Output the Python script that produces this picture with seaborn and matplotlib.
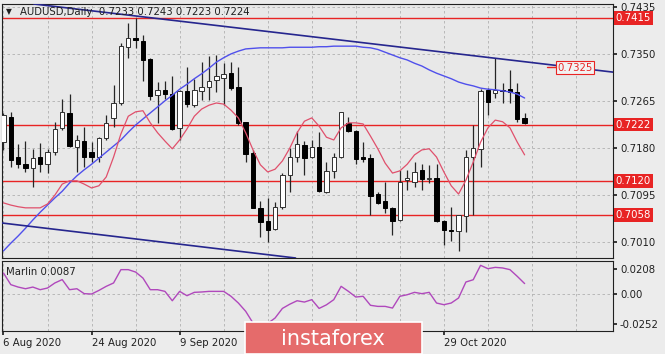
import matplotlib
matplotlib.use('Agg')
import matplotlib.pyplot as plt
from matplotlib.patches import Rectangle
import seaborn as sns
import numpy as np

# AUDUSD daily candles (6 Aug 2020 .. 13 Nov 2020)
opens = [0.7190, 0.7236, 0.7163, 0.7150, 0.7143, 0.7163, 0.7150, 0.7172, 0.7215, 0.7243,
         0.7181, 0.7192, 0.7172, 0.7163, 0.7197, 0.7234, 0.7261, 0.7362, 0.7379, 0.7373,
         0.7341, 0.7276, 0.7285, 0.7277, 0.7216, 0.7283, 0.7257, 0.7283, 0.7290, 0.7303,
         0.7306, 0.7315, 0.7290, 0.7226, 0.7170, 0.7071, 0.7047, 0.7033, 0.7073, 0.7130,
         0.7163, 0.7185, 0.7163, 0.7181, 0.7100, 0.7138, 0.7163, 0.7224, 0.7210, 0.7163,
         0.7161, 0.7096, 0.7083, 0.7071, 0.7049, 0.7121, 0.7118, 0.7140, 0.7123, 0.7125,
         0.7047, 0.7031, 0.7029, 0.7056, 0.7163, 0.7178, 0.7285, 0.7279, 0.7285, 0.7286,
         0.7281, 0.7233]
highs = [0.7242, 0.7245, 0.7187, 0.7192, 0.7177, 0.7188, 0.7177, 0.7226, 0.7268, 0.7277,
         0.7203, 0.7217, 0.7190, 0.7199, 0.7239, 0.7294, 0.7370, 0.7406, 0.7415, 0.7384,
         0.7343, 0.7299, 0.7301, 0.7310, 0.7285, 0.7326, 0.7304, 0.7335, 0.7346, 0.7348,
         0.7333, 0.7335, 0.7326, 0.7226, 0.7176, 0.7083, 0.7089, 0.7082, 0.7134, 0.7179,
         0.7210, 0.7192, 0.7194, 0.7208, 0.7154, 0.7170, 0.7245, 0.7236, 0.7212, 0.7190,
         0.7168, 0.7100, 0.7118, 0.7073, 0.7140, 0.7140, 0.7154, 0.7150, 0.7148, 0.7150,
         0.7049, 0.7073, 0.7058, 0.7176, 0.7221, 0.7287, 0.7288, 0.7343, 0.7297, 0.7321,
         0.7297, 0.7243]
lows = [0.7176, 0.7145, 0.7143, 0.7136, 0.7109, 0.7136, 0.7134, 0.7167, 0.7212, 0.7181,
        0.7136, 0.7145, 0.7154, 0.7154, 0.7194, 0.7217, 0.7257, 0.7342, 0.7361, 0.7301,
        0.7266, 0.7224, 0.7268, 0.7212, 0.7194, 0.7254, 0.7254, 0.7266, 0.7266, 0.7281,
        0.7257, 0.7285, 0.7221, 0.7154, 0.7071, 0.7018, 0.7009, 0.7031, 0.7069, 0.7100,
        0.7154, 0.7130, 0.7161, 0.7100, 0.7098, 0.7125, 0.7161, 0.7208, 0.7150, 0.7154,
        0.7058, 0.7078, 0.7062, 0.7022, 0.7047, 0.7103, 0.7109, 0.7103, 0.7116, 0.7045,
        0.7004, 0.7011, 0.6993, 0.7027, 0.7058, 0.7145, 0.7239, 0.7270, 0.7261, 0.7261,
        0.7226, 0.7223]
closes = [0.7239, 0.7158, 0.7150, 0.7143, 0.7161, 0.7150, 0.7172, 0.7213, 0.7245, 0.7183,
          0.7194, 0.7163, 0.7163, 0.7197, 0.7224, 0.7261, 0.7364, 0.7379, 0.7375, 0.7339,
          0.7274, 0.7285, 0.7277, 0.7214, 0.7283, 0.7259, 0.7285, 0.7290, 0.7301, 0.7310,
          0.7313, 0.7288, 0.7225, 0.7168, 0.7071, 0.7045, 0.7031, 0.7073, 0.7130, 0.7163,
          0.7187, 0.7161, 0.7181, 0.7101, 0.7138, 0.7163, 0.7245, 0.7210, 0.7159, 0.7159,
          0.7092, 0.7080, 0.7071, 0.7047, 0.7118, 0.7125, 0.7136, 0.7123, 0.7125, 0.7047,
          0.7031, 0.7029, 0.7058, 0.7163, 0.7179, 0.7283, 0.7263, 0.7285, 0.7283, 0.7281,
          0.7232, 0.7224]

# moving averages drawn on the chart
ma_slow = [0.6993, 0.7007, 0.7020, 0.7034, 0.7049, 0.7063, 0.7076, 0.7089, 0.7101, 0.7116,
           0.7129, 0.7140, 0.7150, 0.7161, 0.7172, 0.7183, 0.7194, 0.7208, 0.7221, 0.7232,
           0.7243, 0.7254, 0.7265, 0.7275, 0.7286, 0.7295, 0.7305, 0.7314, 0.7324, 0.7335,
           0.7343, 0.7350, 0.7355, 0.7359, 0.7360, 0.7361, 0.7361, 0.7361, 0.7361, 0.7362,
           0.7362, 0.7362, 0.7362, 0.7363, 0.7363, 0.7364, 0.7364, 0.7364, 0.7364, 0.7362,
           0.7361, 0.7358, 0.7353, 0.7348, 0.7343, 0.7339, 0.7333, 0.7328, 0.7321, 0.7315,
           0.7310, 0.7305, 0.7299, 0.7295, 0.7292, 0.7288, 0.7286, 0.7285, 0.7283, 0.7281,
           0.7277, 0.7270]
ma_fast = [0.7080, 0.7076, 0.7073, 0.7071, 0.7071, 0.7071, 0.7078, 0.7094, 0.7114, 0.7120,
           0.7120, 0.7114, 0.7107, 0.7111, 0.7127, 0.7163, 0.7205, 0.7237, 0.7245, 0.7247,
           0.7225, 0.7207, 0.7192, 0.7178, 0.7194, 0.7214, 0.7237, 0.7250, 0.7257, 0.7261,
           0.7259, 0.7248, 0.7234, 0.7207, 0.7176, 0.7149, 0.7136, 0.7141, 0.7156, 0.7179,
           0.7207, 0.7228, 0.7234, 0.7219, 0.7199, 0.7194, 0.7216, 0.7225, 0.7225, 0.7223,
           0.7201, 0.7178, 0.7152, 0.7134, 0.7138, 0.7150, 0.7167, 0.7176, 0.7178, 0.7163,
           0.7136, 0.7111, 0.7096, 0.7121, 0.7154, 0.7190, 0.7216, 0.7230, 0.7227, 0.7216,
           0.7190, 0.7167]

# Marlin oscillator (lower panel)
marlin = [0.0175, 0.0078, 0.0058, 0.0044, 0.0058, 0.0036, 0.0050, 0.0092, 0.0120, 0.0036,
          0.0044, 0.0003, 0.0000, 0.0030, 0.0064, 0.0092, 0.0203, 0.0203, 0.0183, 0.0133,
          0.0036, 0.0036, 0.0022, -0.0056, 0.0022, -0.0014, 0.0014, 0.0017, 0.0022, 0.0022,
          0.0022, -0.0019, -0.0075, -0.0144, -0.0242, -0.0300, -0.0245, -0.0200, -0.0120, -0.0085,
          -0.0056, -0.0067, -0.0047, -0.0120, -0.0090, -0.0047, 0.0064, 0.0022, -0.0025, -0.0019,
          -0.0094, -0.0103, -0.0103, -0.0117, -0.0019, -0.0006, 0.0014, 0.0003, 0.0014, -0.0075,
          -0.0089, -0.0075, -0.0033, 0.0100, 0.0119, 0.0239, 0.0211, 0.0222, 0.0217, 0.0203,
          0.0147, 0.0087]

levels = [0.7415, 0.7222, 0.7120, 0.7058]
price_ticks = [0.7435, 0.7350, 0.7265, 0.7180, 0.7095, 0.7010]
marlin_ticks = [0.0208, 0.0, -0.0252]
marlin_labels = ['0.0208', '0.00', '-0.0252']
# the labels at bars 36 and 48 sit under the watermark, so only the visible ones are drawn
date_pos = [0, 12, 24, 60]
date_labels = ['6 Aug 2020', '24 Aug 2020', '9 Sep 2020', '29 Oct 2020']
trend_x = [1.84, 77.9]
trend_y = [0.7444, 0.7325]
channel_x = [-0.5, 36.7]
channel_y = [0.7044, 0.6985]
header = 'AUDUSD,Daily  0.7233 0.7243 0.7223 0.7224'

sns.set_theme(style='white')
plt.rcParams['font.family'] = ['DejaVu Sans']
FS = 7.3
BG = '#e8e8e8'
RED = '#e82424'

W, H = 665, 354
fig = plt.figure(figsize=(W / 100, H / 100), dpi=100, facecolor='#ececec')
ax = fig.add_axes([2 / W, (H - 258) / H, 611 / W, 254 / H])
ax2 = fig.add_axes([2 / W, (H - 331) / H, 611 / W, 70 / H])

idx = np.arange(len(opens))
o = np.array(opens); h = np.array(highs); l = np.array(lows); c = np.array(closes)
up = c >= o

for a in (ax, ax2):
    a.set_facecolor(BG)
    a.set_xlim(-0.2, 83.04)
    for s in a.spines.values():
        s.set_color('#202020')
        s.set_linewidth(0.8)
    for gx in range(0, 84, 6):
        a.axvline(gx, color='#b0b0b0', lw=0.6, ls=(0, (3, 3)), zorder=0)

# main panel
ax.set_ylim(0.69801, 0.74404)
for py in price_ticks:
    ax.axhline(py, color='#b0b0b0', lw=0.6, ls=(0, (3, 3)), zorder=0)

ax.vlines(idx, l, h, color='#252525', lw=0.9, zorder=3)
body = np.maximum(np.abs(c - o), 0.00012)
ax.bar(idx[up], body[up], bottom=o[up], width=0.6, color='white', edgecolor='#303030', lw=0.7, zorder=4)
ax.bar(idx[~up], body[~up], bottom=c[~up], width=0.6, color='black', edgecolor='black', lw=0.7, zorder=4)

sns.lineplot(x=idx, y=ma_slow, ax=ax, color='#5050ec', lw=1.0, zorder=5)
sns.lineplot(x=idx, y=ma_fast, ax=ax, color='#e0506c', lw=0.9, zorder=5)

ax.axline((trend_x[0], trend_y[0]), (trend_x[1], trend_y[1]), color='#26268e', lw=1.2, zorder=5)
ax.axline((channel_x[0], channel_y[0]), (channel_x[1], channel_y[1]), color='#26268e', lw=1.2, zorder=5)

for lv in levels:
    ax.axhline(lv, color=RED, lw=1.0, zorder=2)
    ax.text(1.004, lv, f'{lv:.4f}', transform=ax.get_yaxis_transform(), color='white',
            fontsize=FS, ha='left', va='center', clip_on=False, zorder=10,
            bbox=dict(boxstyle='square,pad=0.18', fc=RED, ec='none'))

ax.plot([74.0, 75.6], [0.7327, 0.7327], color=RED, lw=1.0, zorder=6)
ax.text(trend_x[1], trend_y[1], f'{trend_y[1]:.4f}', color=RED, fontsize=FS, ha='center', va='center',
        zorder=7, bbox=dict(boxstyle='square,pad=0.15', fc='#f2f2f2', ec=RED, lw=0.8))

ax.yaxis.tick_right()
ax.set_yticks(price_ticks)
ax.set_yticklabels([f'{p:.4f}' for p in price_ticks])
ax.set_xticks([])
ax.tick_params(axis='y', labelsize=FS, length=3, pad=2, colors='#202020', right=True)
ax.set_xlabel('')
ax.set_ylabel('')

fig.text(9 / W, 1 - 12 / H, '\u25bc', fontsize=5.5, ha='center', va='center', color='#202020')
ax.text(18 / 611, 1 - 8 / 254, header, transform=ax.transAxes, fontsize=FS,
        ha='left', va='center', color='#202020', zorder=8)

# lower panel
ax2.set_ylim(-0.0308, 0.0275)
ax2.axhline(0, color='#b0b0b0', lw=0.6, ls=(0, (3, 3)), zorder=0)
sns.lineplot(x=idx, y=marlin, ax=ax2, color='#b048bc', lw=1.0, zorder=5)
ax2.yaxis.tick_right()
ax2.set_yticks(marlin_ticks)
ax2.set_yticklabels(marlin_labels)
ax2.set_xticks(date_pos)
ax2.set_xticklabels(date_labels, ha='left')
ax2.tick_params(axis='both', labelsize=FS, length=3, pad=2, colors='#202020', right=True, bottom=True)
ax2.set_xlabel('')
ax2.set_ylabel('')
ax2.text(4 / 611, 1 - 11 / 70, f'Marlin {marlin[-1]:.4f}', transform=ax2.transAxes,
         fontsize=FS, ha='left', va='center', color='#202020')

# watermark
fig.add_artist(Rectangle((245 / W, 0), 177 / W, 32 / H, transform=fig.transFigure,
                         fc='#e56b6b', ec='white', lw=1.2, zorder=20))
fig.text(333 / W, 15 / H, 'instaforex', color='white', fontsize=15, ha='center', va='center', zorder=21)

fig.savefig('out.png', dpi=100, facecolor=fig.get_facecolor())
